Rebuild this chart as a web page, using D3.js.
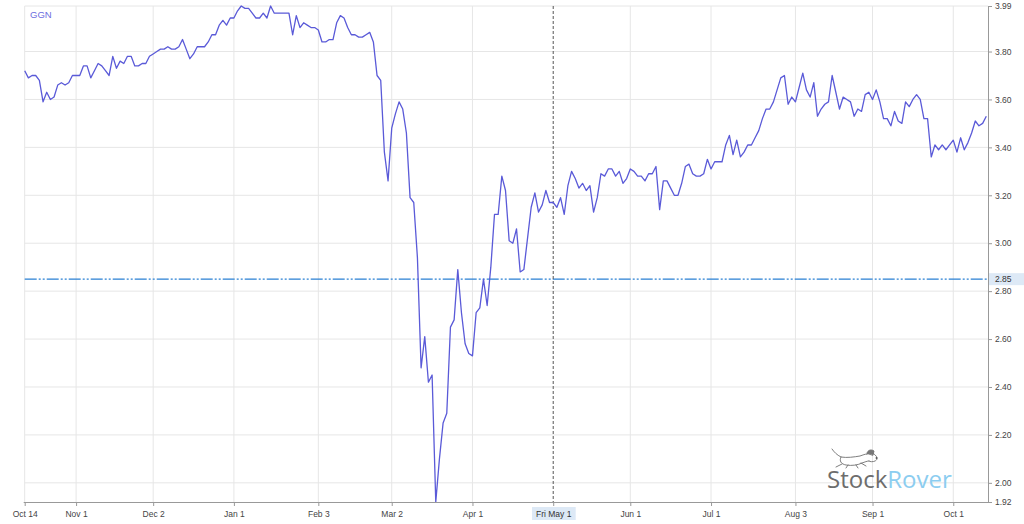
<!DOCTYPE html>
<html>
<head>
<meta charset="utf-8">
<script src="https://cdn.jsdelivr.net/npm/d3@7"></script>
<style>
  html, body { margin: 0; padding: 0; background: #ffffff; }
  svg { display: block; font-family: "Liberation Sans", Arial, sans-serif; }
</style>
</head>
<body>
<script>
// ---------------- data ----------------
const ticker = "GGN";
// one value per weekday, Oct 14 2019 .. Oct 14 2020
const values = [
3.72,3.69,3.70,3.70,3.68,3.59,3.63,3.60,3.61,3.66,
3.67,3.66,3.67,3.70,3.70,3.70,3.74,3.74,3.69,3.72,
3.75,3.74,3.72,3.70,3.78,3.73,3.76,3.75,3.78,3.78,
3.74,3.74,3.75,3.75,3.78,3.79,3.80,3.81,3.81,3.82,
3.81,3.81,3.82,3.85,3.81,3.77,3.79,3.82,3.82,3.82,
3.84,3.87,3.87,3.91,3.93,3.91,3.94,3.94,3.97,3.99,
3.98,3.98,3.96,3.94,3.94,3.96,3.94,3.99,3.96,3.96,
3.96,3.96,3.96,3.87,3.95,3.90,3.92,3.91,3.90,3.90,
3.89,3.84,3.84,3.85,3.85,3.92,3.95,3.94,3.90,3.87,
3.87,3.86,3.86,3.87,3.88,3.84,3.70,3.68,3.38,3.26,
3.48,3.54,3.59,3.56,3.46,3.19,3.17,2.94,2.48,2.61,
2.42,2.45,1.92,2.10,2.25,2.29,2.65,2.68,2.89,2.71,
2.58,2.54,2.53,2.71,2.73,2.85,2.74,2.90,3.12,3.12,
3.28,3.22,3.01,3.00,3.06,2.88,2.89,3.02,3.15,3.21,
3.13,3.16,3.22,3.17,3.17,3.15,3.19,3.12,3.24,3.30,
3.27,3.23,3.25,3.22,3.24,3.13,3.19,3.29,3.28,3.31,
3.31,3.28,3.30,3.25,3.27,3.31,3.30,3.28,3.28,3.26,
3.29,3.29,3.32,3.14,3.26,3.26,3.23,3.20,3.20,3.25,
3.32,3.33,3.29,3.28,3.28,3.29,3.35,3.31,3.34,3.34,
3.34,3.41,3.45,3.37,3.43,3.36,3.38,3.41,3.41,3.44,
3.47,3.52,3.56,3.56,3.59,3.64,3.69,3.70,3.58,3.61,
3.59,3.65,3.71,3.64,3.61,3.67,3.53,3.56,3.58,3.59,
3.70,3.63,3.56,3.61,3.60,3.59,3.53,3.56,3.55,3.62,
3.63,3.60,3.64,3.59,3.52,3.52,3.49,3.55,3.51,3.50,
3.59,3.57,3.60,3.62,3.60,3.52,3.52,3.36,3.41,3.39,
3.41,3.39,3.41,3.43,3.38,3.44,3.39,3.42,3.46,3.51,
3.49,3.50,3.53
];
const xTickIndex  = [0, 14, 35, 57, 80, 100, 122, 144, 165, 187, 210, 231, 253];
const xTickLabels = ["Oct 14","Nov 1","Dec 2","Jan 1","Feb 3","Mar 2","Apr 1","Fri May 1","Jun 1","Jul 1","Aug 3","Sep 1","Oct 1"];
const crosshairIndex = 144;
const yMin = 1.92, yMax = 3.99;
const yTicks = [1.92, 2.00, 2.20, 2.40, 2.60, 2.80, 3.00, 3.20, 3.40, 3.60, 3.80, 3.99];
const yGrid  = [2.00, 2.20, 2.40, 2.60, 2.80, 3.00, 3.20, 3.40, 3.60, 3.80, 3.99];
const refLevel = 2.85;

// ---------------- layout ----------------
const W = 1024, H = 524;
const plotL = 24.7, plotR = 986.3, plotT = 6, plotB = 502, axisX = 988;

const svg = d3.select("body").append("svg").attr("width", W).attr("height", H);

const x = d3.scaleLinear().domain([0, values.length - 1]).range([plotL, plotR]);
const y = d3.scaleLinear().domain([yMin, yMax]).range([plotB, plotT]);

// grid
const grid = svg.append("g");
grid.selectAll("line.h").data(yGrid).join("line").attr("class", "h")
  .attr("x1", plotL).attr("x2", axisX)
  .attr("y1", d => y(d)).attr("y2", d => y(d))
  .attr("stroke", "#e6e6e6").attr("stroke-width", 1);
grid.selectAll("line.v").data(xTickIndex.filter(d => d !== crosshairIndex)).join("line").attr("class", "v")
  .attr("x1", d => x(d)).attr("x2", d => x(d))
  .attr("y1", plotT).attr("y2", plotB)
  .attr("stroke", "#e6e6e6").attr("stroke-width", 1);

// reference level line
svg.append("line")
  .attr("x1", plotL).attr("x2", axisX)
  .attr("y1", y(refLevel)).attr("y2", y(refLevel))
  .attr("stroke", "#2a80d4").attr("stroke-width", 1.4)
  .attr("stroke-dasharray", "12,2,2,2,2,2");

// crosshair
svg.append("line")
  .attr("x1", x(crosshairIndex)).attr("x2", x(crosshairIndex))
  .attr("y1", plotT).attr("y2", plotB)
  .attr("stroke", "#555").attr("stroke-width", 1)
  .attr("stroke-dasharray", "3,2");

// logo (running dog sketch + wordmark)
const logo = svg.append("g").attr("transform", "translate(830,447)")
  .attr("fill", "none").attr("stroke", "#6f6f6f").attr("stroke-width", 0.9)
  .attr("stroke-linejoin", "round").attr("stroke-linecap", "round");
logo.append("path").attr("d", "M2,2 C4,5 7,8 11,10 C17,11 24,10 30,9 C33,8 35,7 37,7");
logo.append("path").attr("d", "M11,10 C9,14 11,17 16,18 C22,19 28,18 32,16 C35,15 37,14 39,14");
logo.append("path").attr("d", "M37,7 C40,5 44,6 46,9 C48,11 47,13 45,14 C43,15 40,15 39,14");
logo.append("path").attr("d", "M37,6 C38,3 41,2 44,4 L43,8 Z").attr("fill", "#777");
logo.append("path").attr("d", "M12,17 L6,20 M18,18 L16,21 M31,16 L36,19 M26,18 L28,21");
logo.append("circle").attr("cx", 46.5).attr("cy", 11).attr("r", 0.9).attr("fill", "#555").attr("stroke", "none");
const lt = svg.append("text").attr("x", 827).attr("y", 488)
  .style("font-family", "'Open Sans', sans-serif").style("font-size", "24px");
lt.append("tspan").attr("fill", "#6d6d6d").text("Stock");
lt.append("tspan").attr("fill", "#8ccdf0").text("Rover");

// series line
svg.append("path")
  .datum(values)
  .attr("fill", "none")
  .attr("stroke", "#5a5ad8")
  .attr("stroke-width", 1.3)
  .attr("stroke-linejoin", "round")
  .attr("d", d3.line().x((d, i) => x(i)).y(d => y(d)));

// legend
svg.append("text").attr("x", 30).attr("y", 18)
  .attr("fill", "#6c6ce0").style("font-size", "9.5px").text(ticker);

// x axis
const xAxis = svg.append("g").attr("transform", `translate(0,${plotB})`)
  .call(d3.axisBottom(x).tickValues(xTickIndex)
    .tickFormat((d, i) => xTickLabels[i]).tickSize(4).tickSizeOuter(0));
xAxis.select(".domain").attr("stroke", "#999").attr("d", `M${plotL - 1},0.5H${axisX}`);
xAxis.selectAll(".tick line").attr("stroke", "#999");
xAxis.selectAll(".tick text").attr("fill", "#444").style("font-size", "8.5px")
  .style("font-family", "'Liberation Sans', Arial, sans-serif").attr("dy", "1em").attr("y", 6);
// highlight crosshair label
xAxis.selectAll(".tick").filter(d => d === crosshairIndex).each(function () {
  const g = d3.select(this);
  const t = g.select("text");
  const bb = t.node().getBBox();
  g.insert("rect", "text")
    .attr("x", bb.x - 4).attr("y", bb.y - 1.5)
    .attr("width", bb.width + 8).attr("height", bb.height + 3)
    .attr("fill", "#dde9f6");
  t.attr("fill", "#333");
});

// y axis
const yAxis = svg.append("g").attr("transform", `translate(${axisX},0)`)
  .call(d3.axisRight(y).tickValues(yTicks).tickFormat(d3.format(".2f")).tickSize(4).tickSizeOuter(0));
yAxis.select(".domain").attr("stroke", "#999");
yAxis.selectAll(".tick line").attr("stroke", "#999");
yAxis.selectAll(".tick text").attr("fill", "#444").style("font-size", "8.5px")
  .style("font-family", "'Liberation Sans', Arial, sans-serif").attr("x", 7);

// reference value label
const refG = svg.append("g").attr("transform", `translate(${axisX},${y(refLevel)})`);
refG.append("rect").attr("x", 1).attr("y", -6).attr("width", W - axisX - 1).attr("height", 12).attr("fill", "#dde9f6");
refG.append("text").attr("x", 7).attr("dy", "0.32em").attr("fill", "#333")
  .style("font-size", "8.5px").text(d3.format(".2f")(refLevel));
</script>
</body>
</html>
